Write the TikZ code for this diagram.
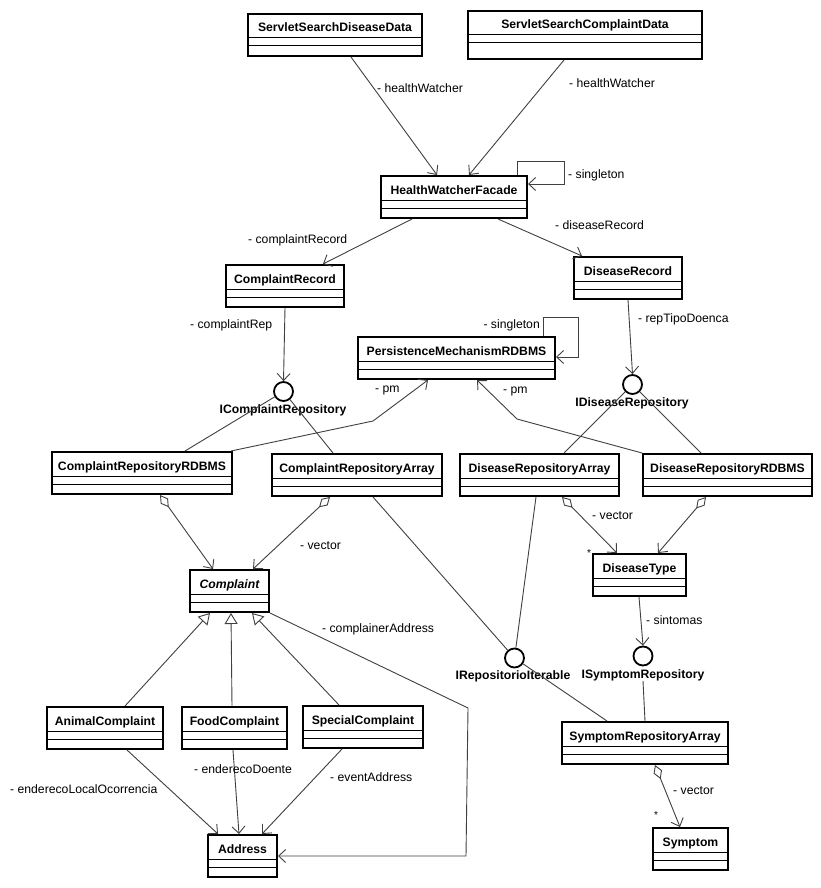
\documentclass[tikz,border=0pt]{standalone}
\usepackage{fontspec}
\setmainfont{Liberation Sans}
\usetikzlibrary{arrows.meta}

\begin{document}
\begin{tikzpicture}[x=1pt,y=-1pt]
        \tikzset{ClassStyle/.style={draw, line width=2pt, fill=white, anchor=north west,
            inner sep=0pt, minimum width=#1, minimum height=42pt, text height=18pt, text depth=24pt,
            font=\fontsize{12.2}{14}\selectfont\bfseries,
            path picture={\draw[line width=1pt]
              ([yshift=-24pt]path picture bounding box.north west) -- ([yshift=-24pt]path picture bounding box.north east)
              ([yshift=-32pt]path picture bounding box.north west) -- ([yshift=-32pt]path picture bounding box.north east);}},
          IfaceStyle/.style={circle, draw, line width=1.8pt, fill=white, minimum size=19pt, inner sep=0pt},
          IfaceName/.style={inner sep=0pt, font=\fontsize{12.2}{14}\selectfont\bfseries},
          RoleStyle/.style={anchor=west, inner sep=0pt, font=\fontsize{12.2}{14}\selectfont},
          MultStyle/.style={inner sep=0pt, font=\fontsize{10}{11}\selectfont},
          LinkStyle/.style={draw=black!75, line width=0.9pt},
          AssocStyle/.style={LinkStyle, -{Straight Barb[length=7pt,width=13pt]}},
          AggrStyle/.style={LinkStyle, {Diamond[open,length=15pt,width=9pt]}-{Straight Barb[length=7pt,width=13pt]}},
          GenStyle/.style={LinkStyle, -{Triangle[open,length=11pt,width=13pt]}}}
        \fill[white] (0,0) rectangle (821,888);
        \useasboundingbox (0,0) rectangle (821,888);
        % classes
        \node[ClassStyle=174pt] (ssdd) at (247,13) {ServletSearchDiseaseData};
        \node[ClassStyle=234pt, minimum height=48pt, text depth=30pt] (sscd) at (467,10) {ServletSearchComplaintData};
        \node[ClassStyle=146pt] (hwf) at (380,175) {HealthWatcherFacade};
        \node[ClassStyle=118pt] (crec) at (225,264) {ComplaintRecord};
        \node[ClassStyle=108pt] (drec) at (573,256) {DiseaseRecord};
        \node[ClassStyle=197pt] (pm) at (357,336) {PersistenceMechanismRDBMS};
        \node[ClassStyle=180pt] (crrdbms) at (51,451) {ComplaintRepositoryRDBMS};
        \node[ClassStyle=170pt] (crarr) at (271,453) {ComplaintRepositoryArray};
        \node[ClassStyle=159pt] (drarr) at (459,453) {DiseaseRepositoryArray};
        \node[ClassStyle=169pt] (drrdbms) at (642,453) {DiseaseRepositoryRDBMS};
        \node[ClassStyle=93pt] (dtype) at (592,553) {DiseaseType};
        \node[ClassStyle=79pt] (complaint) at (189,569) {\itshape Complaint};
        \node[ClassStyle=166pt] (sra) at (561,721) {SymptomRepositoryArray};
        \node[ClassStyle=75pt] (symptom) at (652,827) {Symptom};
        \node[ClassStyle=116pt] (animal) at (46,706) {AnimalComplaint};
        \node[ClassStyle=105pt] (food) at (181,706) {FoodComplaint};
        \node[ClassStyle=120pt] (special) at (302,705) {SpecialComplaint};
        \node[ClassStyle=69pt] (address) at (207,834) {Address};
        % interfaces
        \node[IfaceStyle] (icr) at (283.5,391.5) {};
        \node[IfaceName] (icrname) at (283,410) {IComplaintRepository};
        \node[IfaceStyle] (idr) at (632.5,384.5) {};
        \node[IfaceName] (idrname) at (632,403) {IDiseaseRepository};
        \node[IfaceStyle] (iri) at (514.5,658) {};
        \node[IfaceName] (iriname) at (513,676) {IRepositorioIterable};
        \node[IfaceStyle] (isr) at (643,656) {};
        \node[IfaceName] (isrname) at (643,675) {ISymptomRepository};
        \coordinate (bendA) at (373,421);
        \coordinate (bendB) at (517,419);
        \coordinate (bendC) at (468,708);
        \coordinate (bendD) at (466,856);
        % associations
        \draw[AssocStyle] ([xshift=104pt]ssdd.south west) -- ([xshift=57pt]hwf.north west);
        \draw[AssocStyle] ([xshift=97pt]sscd.south west) -- ([xshift=89pt]hwf.north west);
        \draw[AssocStyle] ([xshift=137pt]hwf.north west) -- ++(0,-14) -| ([xshift=36pt,yshift=-9pt]hwf.north east) -- ([yshift=-9pt]hwf.north east);
        \draw[AssocStyle] ([xshift=32pt]hwf.south west) -- ([xshift=98pt]crec.north west);
        \draw[AssocStyle] ([xshift=118pt]hwf.south west) -- ([xshift=9pt]drec.north west);
        \draw[AssocStyle] (crec.south) -- (icr.north);
        \draw[AssocStyle] ([xshift=55pt]drec.south west) -- (idr.north);
        \draw[AssocStyle] ([xshift=186pt]pm.north west) -- ++(0,-19) -| ([xshift=22pt,yshift=-21pt]pm.north east) -- ([yshift=-21pt]pm.north east);
        \draw[AssocStyle] ([xshift=-2pt]crrdbms.north east) -- (bendA) -- ([xshift=71pt]pm.south west);
        \draw[AssocStyle] (drrdbms.north west) -- (bendB) -- ([xshift=120pt]pm.south west);
        \draw[LinkStyle] (icr) -- ([xshift=134pt]crrdbms.north west);
        \draw[LinkStyle] (icr) -- ([xshift=62pt]crarr.north west);
        \draw[LinkStyle] (idr) -- ([xshift=105pt]drarr.north west);
        \draw[LinkStyle] (idr) -- ([xshift=59pt]drrdbms.north west);
        \draw[AggrStyle] ([xshift=109pt]crrdbms.south west) -- ([xshift=24pt]complaint.north west);
        \draw[AggrStyle] ([xshift=59pt]crarr.south west) -- ([xshift=64pt]complaint.north west);
        \draw[LinkStyle] ([xshift=102pt]crarr.south west) -- (iri);
        \draw[LinkStyle] ([xshift=77pt]drarr.south west) -- (iri);
        \draw[LinkStyle] (iri) -- ([xshift=46pt]sra.north west);
        \draw[AggrStyle] ([xshift=103pt]drarr.south west) -- ([xshift=25pt]dtype.north west);
        \draw[AggrStyle] ([xshift=64pt]drrdbms.south west) -- ([xshift=66pt]dtype.north west);
        \draw[AssocStyle] ([xshift=47pt]dtype.south west) -- (isr.north);
        \draw[LinkStyle] (isrname.south) -- (sra.north);
        \draw[AggrStyle] ([xshift=94pt]sra.south west) -- ([xshift=28pt]symptom.north west);
        \draw[GenStyle] ([xshift=79pt]animal.north west) -- ([xshift=21pt]complaint.south west);
        \draw[GenStyle] ([xshift=51pt]food.north west) -- ([xshift=42pt]complaint.south west);
        \draw[GenStyle] ([xshift=37pt]special.north west) -- ([xshift=63pt]complaint.south west);
        \draw[AssocStyle] (complaint.south east) -- (bendC) -- (bendD) -- (address.east);
        \draw[AssocStyle] ([xshift=81pt]animal.south west) -- ([xshift=11pt]address.north west);
        \draw[AssocStyle] ([xshift=52pt]food.south west) -- ([xshift=32pt]address.north west);
        \draw[AssocStyle] ([xshift=40pt]special.south west) -- ([xshift=55pt]address.north west);
        % roles
        \node[RoleStyle] (r1) at (377,88) {- healthWatcher};
        \node[RoleStyle] (r2) at (569,83) {- healthWatcher};
        \node[RoleStyle] (r3) at (568,175) {- singleton};
        \node[RoleStyle] (r4) at (248,240) {- complaintRecord};
        \node[RoleStyle] (r5) at (555,225) {- diseaseRecord};
        \node[RoleStyle] (r6) at (190,325) {- complaintRep};
        \node[RoleStyle] (r7) at (638,319) {- repTipoDoenca};
        \node[RoleStyle, anchor=east] (r8) at (540,325) {- singleton};
        \node[RoleStyle] (r9) at (375,390) {- pm};
        \node[RoleStyle] (r10) at (503,391) {- pm};
        \node[RoleStyle] (r11) at (300,546) {- vector};
        \node[RoleStyle] (r12) at (592,516) {- vector};
        \node[RoleStyle] (r13) at (646,620) {- sintomas};
        \node[RoleStyle] (r14) at (673,791) {- vector};
        \node[RoleStyle] (r15) at (322,629) {- complainerAddress};
        \node[RoleStyle] (r16) at (10,789) {- enderecoLocalOcorrencia};
        \node[RoleStyle] (r17) at (194,769) {- enderecoDoente};
        \node[RoleStyle] (r18) at (330,777) {- eventAddress};
        \node[MultStyle] (m1) at (589,553) {*};
        \node[MultStyle] (m2) at (656,815) {*};
    \end{tikzpicture}
\end{document}
